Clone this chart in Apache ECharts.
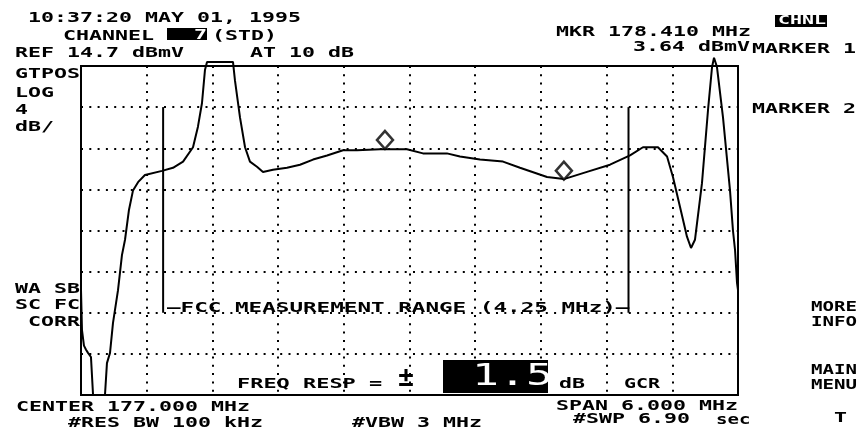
<!DOCTYPE html>
<html>
<head>
<meta charset="UTF-8">
<title>Channel 7 frequency response</title>
<script src="https://cdn.jsdelivr.net/npm/echarts@6/dist/echarts.min.js"></script>
<style>
  html, body { margin: 0; padding: 0; background: #fff; }
  #main { width: 862px; height: 432px; }
</style>
</head>
<body>
<div id="main"></div>
<script>
// sweep 174 - 180 MHz, REF 14.7 dBmV, 4 dB/div
var freqMHz = [174.000, 174.009, 174.027, 174.046, 174.064, 174.091, 174.110, 174.219, 174.237, 174.265,
               174.292, 174.338, 174.374, 174.402, 174.438, 174.475, 174.521, 174.584, 174.740, 174.840,
               174.932, 175.023, 175.068, 175.105, 175.132, 175.151, 175.388, 175.406, 175.452, 175.498,
               175.543, 175.607, 175.662, 175.753, 175.881, 176.000, 176.119, 176.247, 176.393, 176.521,
               176.731, 176.977, 177.123, 177.342, 177.461, 177.644, 177.854, 178.009, 178.256, 178.410,
               178.621, 178.831, 179.014, 179.132, 179.269, 179.352, 179.406, 179.470, 179.534, 179.571,
               179.607, 179.671, 179.726, 179.763, 179.781, 179.808, 179.863, 179.927, 179.954, 179.973,
               179.991, 180.000];
var levelDbmV = [-7.1, -11.0, -12.5, -12.9, -13.2, -13.6, -17.3, -17.3, -14.2, -13.2,
                 -10.3, -7.1, -3.7, -2.2, 0.7, 2.6, 3.4, 4.1, 4.5, 4.8,
                 5.4, 6.8, 8.8, 11.1, 14.3, 15.1, 15.1, 13.3, 9.7, 6.8,
                 5.4, 4.9, 4.4, 4.6, 4.8, 5.1, 5.6, 6.0, 6.5, 6.5,
                 6.6, 6.6, 6.2, 6.2, 5.9, 5.6, 5.4, 4.8, 3.9, 3.7,
                 4.4, 5.1, 6.0, 6.8, 6.8, 5.9, 3.9, 1.0, -1.9, -3.0,
                 -2.2, 3.3, 10.4, 14.6, 15.5, 14.6, 9.7, 2.6, -1.3, -3.2,
                 -6.4, -7.1];

var markerFreq = [176.776, 178.410];
var markerLevel = [6.63, 3.64];

var fccEdges = [174.75, 179.00];
var fccTop = 10.7;
var fccBottom = -9.3;

var FONT = '"DejaVu Sans Mono", monospace';

// monospace text stretched so each char takes `adv` px, like the analyzer screen font
function txt(s, x, y, opt) {
    opt = opt || {};
    var size = opt.size || 14;
    var adv = opt.adv || 13;
    return {
        type: 'text',
        x: x, y: y,
        scaleX: adv / (0.602 * size),
        z: 100,
        style: {
            text: s,
            fontFamily: FONT,
            fontSize: size,
            fontWeight: opt.weight || 'bold',
            fill: opt.fill || '#000',
            align: 'left',
            verticalAlign: 'middle'
        }
    };
}

function box(x, y, w, h) {
    return { type: 'rect', z: 90, shape: { x: x, y: y, width: w, height: h }, style: { fill: '#000' } };
}

var trace = freqMHz.map(function (f, i) { return [f, levelDbmV[i]]; });
var markers = markerFreq.map(function (f, i) { return [f, markerLevel[i]]; });

var dotted = { type: [2, 6.3], width: 2, color: '#000' };

var chart = echarts.init(document.getElementById('main'));

var option = {
    backgroundColor: '#fff',
    animation: false,
    grid: { left: 81, right: 124, top: 66, bottom: 37, show: true, borderColor: '#000', borderWidth: 2 },
    xAxis: {
        type: 'value', min: 174, max: 180, interval: 0.6,
        axisLine: { show: false }, axisTick: { show: false }, axisLabel: { show: false },
        splitLine: { show: true, lineStyle: dotted }
    },
    yAxis: {
        type: 'value', min: -17.3, max: 14.7, interval: 4,
        axisLine: { show: false }, axisTick: { show: false }, axisLabel: { show: false },
        splitLine: { show: true, lineStyle: dotted }
    },
    series: [
        {
            type: 'line', data: trace, showSymbol: false, clip: false, z: 10,
            lineStyle: { color: '#000', width: 2 }
        },
        {
            type: 'line', data: [[fccEdges[0], fccTop], [fccEdges[0], fccBottom]],
            showSymbol: false, lineStyle: { color: '#000', width: 2 }
        },
        {
            type: 'line', data: [[fccEdges[1], fccTop], [fccEdges[1], fccBottom]],
            showSymbol: false, lineStyle: { color: '#000', width: 2 }
        },
        {
            type: 'scatter', data: markers, symbol: 'diamond', symbolSize: [16, 18],
            symbolOffset: [0, -9], z: 20,
            itemStyle: { color: '#fff', borderColor: '#000', borderWidth: 2.5 }
        }
    ],
    graphic: [
        txt('10:37:20 MAY 01, 1995', 28, 18),
        txt('CHANNEL', 63, 36),
        box(167, 28, 40, 12),
        txt('7', 194, 35, { fill: '#fff' }),
        txt('(STD)', 212, 36),
        txt('REF 14.7 dBmV', 15, 53),
        txt('AT 10 dB', 250, 53),
        txt('MKR 178.410 MHz', 556, 32),
        txt('3.64 dBmV', 633, 47),
        txt('MARKER 1', 752, 49),
        box(775, 15, 52, 12),
        txt('CHNL', 778, 21, { fill: '#fff', adv: 12, size: 12 }),
        txt('MARKER 2', 752, 109),
        txt('GTPOS', 15, 74),
        txt('LOG', 15, 93),
        txt('4', 15, 110),
        txt('dB/', 15, 127),
        txt('WA SB', 15, 289),
        txt('SC FC', 15, 305),
        txt('CORR', 28, 322),
        txt('\u2014FCC MEASUREMENT RANGE (4.25 MHz)\u2014', 167, 308, { adv: 13.6 }),
        txt('FREQ RESP =', 237, 384, { adv: 13.2 }),
        txt('\u00b1', 398, 379, { size: 26, adv: 16 }),
        box(443, 360, 105, 33),
        txt('1.5', 472, 377, { size: 30, adv: 27, weight: 'normal', fill: '#fff' }),
        txt('dB', 559, 384),
        txt('GCR', 624, 384, { adv: 12 }),
        txt('CENTER 177.000 MHz', 16, 407),
        txt('#RES BW 100 kHz', 68, 423),
        txt('#VBW 3 MHz', 352, 423),
        txt('SPAN 6.000 MHz', 556, 406),
        txt('#SWP 6.90', 573, 419),
        txt('sec', 716, 420, { adv: 11.5 }),
        txt('MORE', 811, 307, { adv: 11.5 }),
        txt('INFO', 811, 322, { adv: 11.5 }),
        txt('MAIN', 811, 370, { adv: 11.5 }),
        txt('MENU', 811, 385, { adv: 11.5 }),
        txt('T', 834, 418)
    ]
};

chart.setOption(option);
</script>
</body>
</html>
